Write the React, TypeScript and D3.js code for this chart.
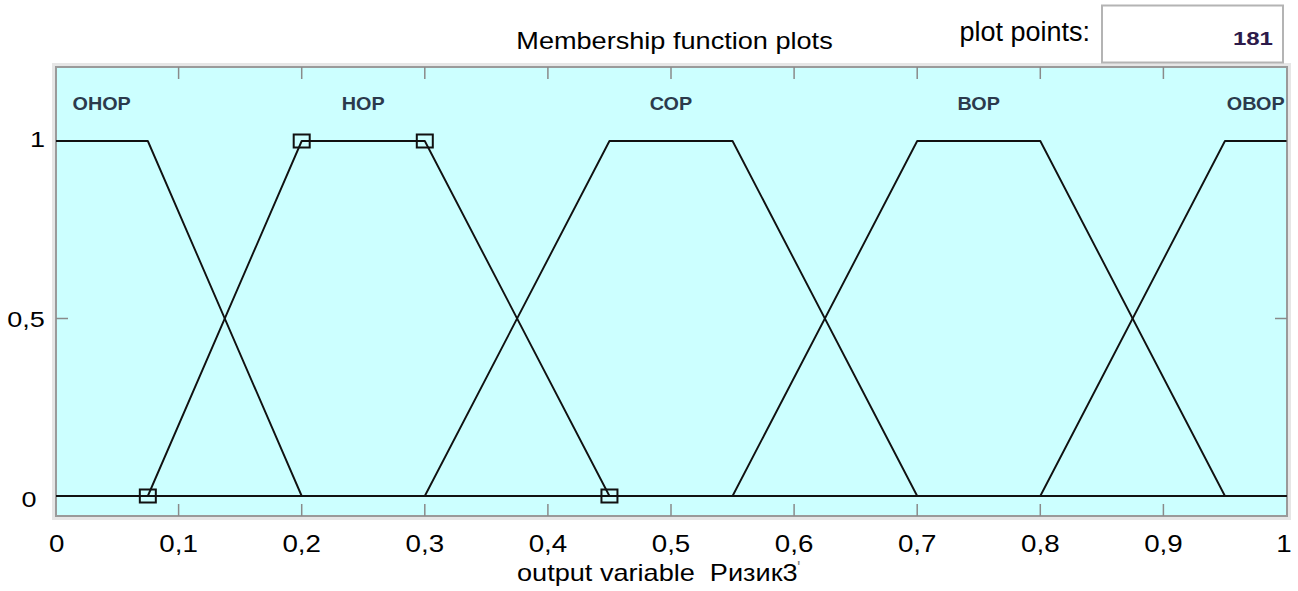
import React from "react";
import * as d3 from "d3";

const mfNames = ["ОНОР", "НОР", "СОР", "ВОР", "ОВОР"];
const mfParams: number[][] = [
  [-0.05, -0.02, 0.075, 0.2],
  [0.075, 0.2, 0.3, 0.45],
  [0.3, 0.45, 0.55, 0.7],
  [0.55, 0.7, 0.8, 0.95],
  [0.8, 0.95, 1.02, 1.05],
];
const selectedIndex = 1;
const xTicks = [0, 0.1, 0.2, 0.3, 0.4, 0.5, 0.6, 0.7, 0.8, 0.9, 1];
const yTicks = [0, 0.5, 1];
const plotPoints = "181";
const titleText = "Membership function plots";
const xAxisText = "output variable  Ризик3";

const W = 1298;
const H = 591;
const frame = { left: 56, right: 1287, top: 67, bottom: 516 };

export default function App() {
  const x = d3.scaleLinear().domain([0, 1]).range([55.5, 1286.5]);
  const y = d3.scaleLinear().domain([0, 1]).range([496, 141]);
  const fmt = (v: number) => String(v).replace(".", ",");

  const mfPath = (p: number[]) => {
    const mu = (v: number) => {
      if (v <= p[0] || v >= p[3]) return 0;
      if (v >= p[1] && v <= p[2]) return 1;
      if (v < p[1]) return (v - p[0]) / (p[1] - p[0]);
      return (p[3] - v) / (p[3] - p[2]);
    };
    const xs = Array.from(new Set([0, ...p.filter((v) => v > 0 && v < 1), 1])).sort((a, b) => a - b);
    const line = d3
      .line<number>()
      .x((v) => x(v))
      .y((v) => y(mu(v)));
    return line(xs) || "";
  };

  const labelX = (p: number[]) => {
    const a = Math.max(0, p[1]);
    const b = Math.min(1, p[2]);
    return x((a + b) / 2);
  };

  const sel = mfParams[selectedIndex];
  const markers: [number, number][] = [
    [sel[0], 0],
    [sel[1], 1],
    [sel[2], 1],
    [sel[3], 0],
  ];

  const font = "Arial, 'Liberation Sans', Helvetica, sans-serif";

  const xLabelX = (t: number) => (t === 0 ? 56.7 : t === 1 ? 1284 : x(t));
  const yLabelX: Record<string, number> = { "0": 29, "0.5": 26, "1": 37.5 };
  const yLabelBase: Record<string, number> = { "0": 506.5, "0.5": 327, "1": 147 };

  return (
    <svg
      width={W}
      height={H}
      style={{ position: "absolute", left: 0, top: 0, background: "#fff" }}
      fontFamily={font}
    >
      <defs>
        <clipPath id="plotClip">
          <rect x={frame.left} y={frame.top} width={frame.right - frame.left} height={frame.bottom - frame.top} />
        </clipPath>
      </defs>
      <rect
        x={frame.left - 2.5}
        y={frame.top - 2.5}
        width={frame.right - frame.left + 5}
        height={frame.bottom - frame.top + 5}
        fill="none"
        stroke="#e6e6e6"
        strokeWidth={3}
      />
      <rect
        x={frame.left}
        y={frame.top}
        width={frame.right - frame.left}
        height={frame.bottom - frame.top}
        fill="#CCFFFF"
        stroke="#9a9a9a"
        strokeWidth={2}
      />
      {xTicks.slice(1, -1).map((t) => (
        <g key={"xt" + t} stroke="#8a8a8a" strokeWidth={1.5}>
          <line x1={x(t)} x2={x(t)} y1={frame.top} y2={frame.top + 12} />
          <line x1={x(t)} x2={x(t)} y1={frame.bottom} y2={frame.bottom - 12} />
        </g>
      ))}
      {yTicks.map((t) => (
        <g key={"yt" + t} stroke="#8a8a8a" strokeWidth={1.5}>
          <line x1={frame.left} x2={frame.left + 12} y1={y(t)} y2={y(t)} />
          <line x1={frame.right} x2={frame.right - 12} y1={y(t)} y2={y(t)} />
        </g>
      ))}
      <g clipPath="url(#plotClip)">
        {mfParams.map((p, i) => (
          <path key={"mf" + i} d={mfPath(p)} fill="none" stroke="#111" strokeWidth={1.9} strokeLinejoin="round" />
        ))}
        {mfParams.map((p, i) => (
          <text
            key={"lb" + i}
            transform={`translate(${labelX(p)},110) scale(1.07,1)`}
            textAnchor="middle"
            fontSize={18.5}
            fontWeight="bold"
            fill="#2b3a4c"
          >
            {mfNames[i]}
          </text>
        ))}
        {markers.map(([a, b], i) => (
          <rect
            key={"mk" + i}
            x={x(a) - 8}
            y={y(b) - 6.5}
            width={16}
            height={13}
            fill="none"
            stroke="#111"
            strokeWidth={2}
          />
        ))}
      </g>
      {xTicks.map((t) => (
        <text
          key={"xl" + t}
          transform={`translate(${xLabelX(t)},552) scale(1.18,1)`}
          textAnchor="middle"
          fontSize={23.5}
          fill="#000"
        >
          {fmt(t)}
        </text>
      ))}
      {yTicks.map((t) => (
        <text
          key={"yl" + t}
          transform={`translate(${yLabelX[String(t)]},${yLabelBase[String(t)]}) scale(1.2,1)`}
          textAnchor="middle"
          fontSize={22.5}
          fill="#000"
        >
          {fmt(t)}
        </text>
      ))}
      <text transform="translate(674.5,49) scale(1.13,1)" textAnchor="middle" fontSize={24} fill="#000">
        {titleText}
      </text>
      <text
        transform="translate(517,581) scale(1.13,1)"
        textAnchor="start"
        fontSize={24}
        fill="#000"
        style={{ whiteSpace: "pre" }}
      >
        {xAxisText}
      </text>
      <text x={797} y={574} fontSize={18} fill="#888">
        '
      </text>
      <text x={1090} y={41} textAnchor="end" fontSize={27} fill="#000">
        plot points:
      </text>
      <rect x={1102} y={5.5} width={181} height={57} fill="#fff" stroke="#b4b4b4" strokeWidth={2} />
      <text
        transform="translate(1273,45) scale(1.3,1)"
        textAnchor="end"
        fontSize={18.5}
        fontWeight="bold"
        fill="#2d1a4a"
      >
        {plotPoints}
      </text>
    </svg>
  );
}
